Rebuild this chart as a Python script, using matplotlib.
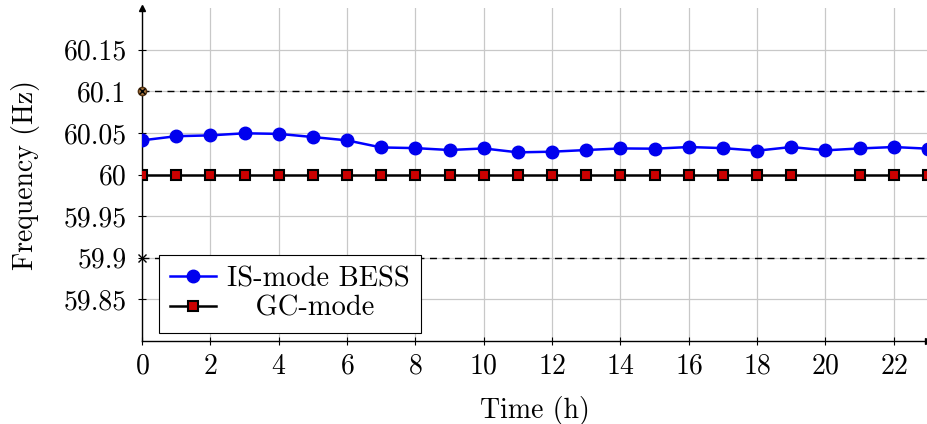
import numpy as np
import matplotlib.pyplot as plt

plt.rcParams['font.family'] = ['cmr10', 'DejaVu Serif']
plt.rcParams['axes.formatter.use_mathtext'] = True
plt.rcParams['mathtext.fontset'] = 'cm'

# datos
horas = list(range(24))
is_mode = [60.041, 60.046, 60.047, 60.0495, 60.0488, 60.045, 60.041, 60.0325, 60.0317,
           60.0294, 60.0313, 60.0266, 60.0274, 60.0294, 60.0313, 60.031, 60.033, 60.0317,
           60.0286, 60.033, 60.029, 60.0313, 60.033, 60.031]
gc_mode = [60.0] * 24
limite_sup = 60.1
limite_inf = 59.9
yticks = [59.85, 59.9, 59.95, 60.0, 60.05, 60.1, 60.15]
ytick_labels = ["59.85", "59.9", "59.95", "60", "60.05", "60.1", "60.15"]

fs = 20

fig = plt.figure(figsize=(9.28, 4.24), dpi=100)
ax = fig.add_axes([142/928, 1 - 341/424, 786/928, 333/424])

ax.grid(True, color='#c8c8c8', linewidth=0.9)
ax.set_axisbelow(True)

# lineas de limite
ax.plot([0, 23], [limite_sup, limite_sup], 'k--', linewidth=1, dashes=(5, 4))
ax.plot([0, 23], [limite_inf, limite_inf], 'k--', linewidth=1, dashes=(5, 4))

ax.plot(horas, is_mode, color='#0000ff', linewidth=1.8, marker='o', markersize=9,
        markerfacecolor='#0000ee', markeredgecolor='#0000ee', label='IS-mode BESS', zorder=4)
marcas = [i for i in horas if i != 20]
ax.plot(horas, gc_mode, color='black', linewidth=1.8, marker='s', markersize=7.5,
        markerfacecolor='#cc0000', markeredgecolor='black', markeredgewidth=1.5,
        markevery=marcas, label='   GC-mode', zorder=5)

# puntos en el eje
ax.plot([0], [limite_sup], marker='o', markersize=6, color='#a0703a', markeredgecolor='#503010',
        clip_on=False, zorder=6)
ax.plot([0], [limite_sup], marker='x', markersize=5, color='black', clip_on=False, zorder=7)
ax.plot([0], [limite_inf], marker='x', markersize=6, color='black', clip_on=False, zorder=7)

ax.set_xlim(0, 23)
ax.set_ylim(59.8, 60.2)
ax.set_xticks(range(0, 23, 2))
ax.set_yticks(yticks)
ax.set_yticklabels(ytick_labels)
ax.tick_params(labelsize=fs, direction='inout', length=6, width=0.8, colors='black')
ax.tick_params(axis='y', pad=8)
ax.tick_params(axis='x', pad=6)

for lado in ['top', 'right']:
    ax.spines[lado].set_visible(False)
for lado in ['left', 'bottom']:
    ax.spines[lado].set_linewidth(1)

# flechas de los ejes
ax.plot(1, 0, '>k', markersize=5, transform=ax.transAxes, clip_on=False)
ax.plot(0, 1, '^k', markersize=5, transform=ax.transAxes, clip_on=False)

ax.set_xlabel('Time (h)', fontsize=fs, labelpad=12)
ax.set_ylabel('Frequency (Hz)', fontsize=fs, labelpad=17)

leg = ax.legend(loc='lower left', bbox_to_anchor=(17/786, 8/333), fontsize=20.5,
                frameon=True, fancybox=False, edgecolor='black', framealpha=1,
                handlelength=1.6, handletextpad=0.4, borderpad=0.4, labelspacing=0.1,
                borderaxespad=0)
leg.get_frame().set_linewidth(0.8)

plt.savefig('out.png', dpi=100)
